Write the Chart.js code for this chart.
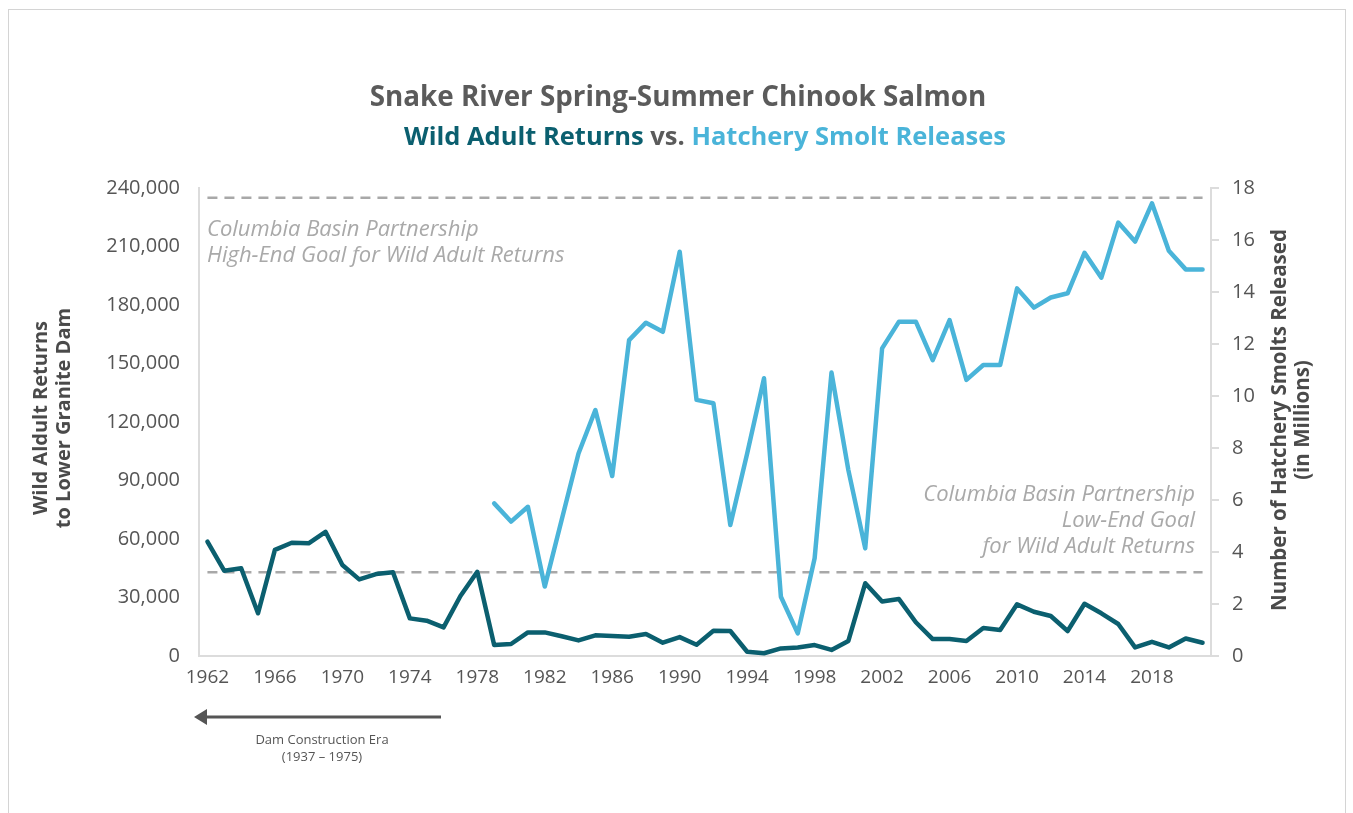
<!DOCTYPE html>
<html>
<head>
<meta charset="utf-8">
<script src="https://cdn.jsdelivr.net/npm/chart.js@4.4.1/dist/chart.umd.min.js"></script>
<style>
  html, body { margin: 0; padding: 0; background: #fff; }
  #wrap { position: relative; width: 1353px; height: 813px; overflow: hidden; font-family: "Open Sans", sans-serif; }
  #frame { position: absolute; left: 8px; top: 9px; width: 1336px; height: 830px; border: 1px solid #d4d4d4; }
  canvas { position: absolute; left: 0; top: 0; }
  .t { position: absolute; white-space: nowrap; }
  .title { text-align: center; font-weight: 700; line-height: 30px; color: #5b5b5b; }
  .rot { transform: rotate(-90deg); text-align: center; font-weight: 700; line-height: 23px; color: #4a4a4a; }
  .note { font-style: italic; font-size: 22px; line-height: 26px; color: #a9a9a9; }
  .dam { font-size: 13px; line-height: 17px; color: #555; text-align: center; }
</style>
</head>
<body>
<div id="wrap">
  <div id="frame"></div>
  <canvas id="c" width="1353" height="813"></canvas>
  <div class="t title" style="left:0; width:1356px; top:80px; font-size:27.8px;">Snake River Spring-Summer Chinook Salmon</div>
  <div class="t title" style="left:0; width:1410px; top:120px; font-size:25.5px;"><span style="color:#0b5f6f">Wild Adult Returns</span> vs. <span style="color:#4ab4d9">Hatchery Smolt Releases</span></div>
  <div class="t rot" style="left:-99px; top:395px; width:300px; font-size:20px;">Wild Aldult Returns<br>to Lower Granite Dam</div>
  <div class="t rot" style="left:1090px; top:397px; width:400px; font-size:20.5px;">Number of Hatchery Smolts Released<br>(in Millions)</div>
  <div class="t note" style="left:207px; top:214px;">Columbia Basin Partnership<br>High-End Goal for Wild Adult Returns</div>
  <div class="t note" style="left:695px; top:479px; width:500px; text-align:right;">Columbia Basin Partnership<br>Low-End Goal<br>for Wild Adult Returns</div>
  <svg class="t" style="left:0; top:0;" width="1353" height="813">
    <line x1="204" y1="717" x2="441" y2="717" stroke="#555" stroke-width="3"/>
    <polygon points="194,717 207,709 207,725" fill="#555"/>
  </svg>
  <div class="t dam" style="left:222px; top:731px; width:200px;">Dam Construction Era<br>(1937 – 1975)</div>
</div>
<script>
const years = [];
for (let y = 1962; y <= 2021; y++) years.push(y);

// Wild adult returns to Lower Granite Dam (1962-2021)
const wildReturns = [
  58600, 43700, 45000, 21900, 54400, 58100, 57800, 63700, 46700, 39300,
  42000, 42900, 19300, 18100, 14700, 30800, 43200, 5600, 6150, 12100,
  12100, 10100, 8000, 10600, 10300, 9900, 11300, 6800, 9700, 5800,
  13000, 12800, 2200, 1400, 3900, 4400, 5600, 3100, 7700, 37300,
  27900, 29200, 17300, 8700, 8700, 7700, 14400, 13300, 26500, 22700,
  20500, 12800, 26800, 21900, 16400, 4400, 7300, 4400, 9000, 6800
];

// Hatchery smolt releases in millions (1979-2021)
const hatcheryStartYear = 1979;
const hatcheryReleases = [
  5.87, 5.17, 5.74, 2.67, 5.23, 7.79, 9.46, 6.92, 12.15, 12.82,
  12.47, 15.55, 9.85, 9.72, 5.04, 7.79, 10.68, 2.28, 0.87, 3.76,
  10.9, 7.15, 4.14, 11.83, 12.86, 12.86, 11.38, 12.92, 10.62, 11.19,
  11.19, 14.14, 13.4, 13.79, 13.95, 15.51, 14.55, 16.67, 15.94, 17.41,
  15.59, 14.87, 14.87
];

const highEndGoal = 235000;
const lowEndGoal = 43000;

const leftTicksMax = 240000;
const rightTicksMax = 18;

const hatcherySeries = years.map(y => {
  const i = y - hatcheryStartYear;
  return i >= 0 && i < hatcheryReleases.length ? hatcheryReleases[i] : null;
});

const xFont = { family: "'Open Sans', sans-serif", size: 19 };
const yFont = { family: "'Open Sans', sans-serif", size: 20 };
const axisGray = '#dcdcdc';

new Chart(document.getElementById('c'), {
  type: 'line',
  data: {
    labels: years,
    datasets: [
      {
        label: 'Wild Adult Returns',
        data: wildReturns,
        yAxisID: 'y',
        borderColor: '#0b5f6f',
        borderWidth: 4.5,
        pointRadius: 0,
        tension: 0,
        borderCapStyle: 'round',
        borderJoinStyle: 'round',
        order: 1
      },
      {
        label: 'Hatchery Smolt Releases',
        data: hatcherySeries,
        yAxisID: 'y1',
        borderColor: '#4ab4d9',
        borderWidth: 4.5,
        pointRadius: 0,
        tension: 0,
        spanGaps: false,
        borderCapStyle: 'round',
        borderJoinStyle: 'round',
        order: 2
      },
      {
        label: 'High-End Goal',
        data: years.map(() => highEndGoal),
        yAxisID: 'y',
        borderColor: '#a8a8a8',
        borderWidth: 2.5,
        borderDash: [10, 7],
        pointRadius: 0,
        order: 3
      },
      {
        label: 'Low-End Goal',
        data: years.map(() => lowEndGoal),
        yAxisID: 'y',
        borderColor: '#a8a8a8',
        borderWidth: 2.5,
        borderDash: [10, 7],
        pointRadius: 0,
        order: 3
      }
    ]
  },
  options: {
    responsive: false,
    animation: false,
    devicePixelRatio: 1,
    layout: { padding: { top: 188, left: 0, right: 0, bottom: 0 } },
    plugins: { legend: { display: false }, tooltip: { enabled: false }, title: { display: false } },
    scales: {
      x: {
        type: 'category',
        offset: true,
        grid: { display: false, drawTicks: false },
        border: { display: true, color: axisGray, width: 2 },
        ticks: {
          autoSkip: false,
          maxRotation: 0,
          padding: 10,
          color: '#555',
          font: xFont,
          callback: function(v, i) { return i % 4 === 0 ? this.getLabelForValue(v) : null; }
        },
        afterFit: s => { s.height = 157; }
      },
      y: {
        position: 'left',
        min: 0, max: leftTicksMax,
        grid: { display: false, drawTicks: false },
        border: { display: true, color: axisGray, width: 2 },
        ticks: { stepSize: 30000, padding: 19, color: '#555', font: yFont },
        afterFit: s => { s.width = 199; }
      },
      y1: {
        position: 'right',
        min: 0, max: rightTicksMax,
        grid: { display: true, drawOnChartArea: false, drawTicks: true, tickLength: 8, color: axisGray, lineWidth: 2 },
        border: { display: true, color: axisGray, width: 2 },
        ticks: { stepSize: 2, padding: 13, color: '#555', font: yFont },
        afterFit: s => { s.width = 142; }
      }
    }
  }
});
</script>
</body>
</html>
